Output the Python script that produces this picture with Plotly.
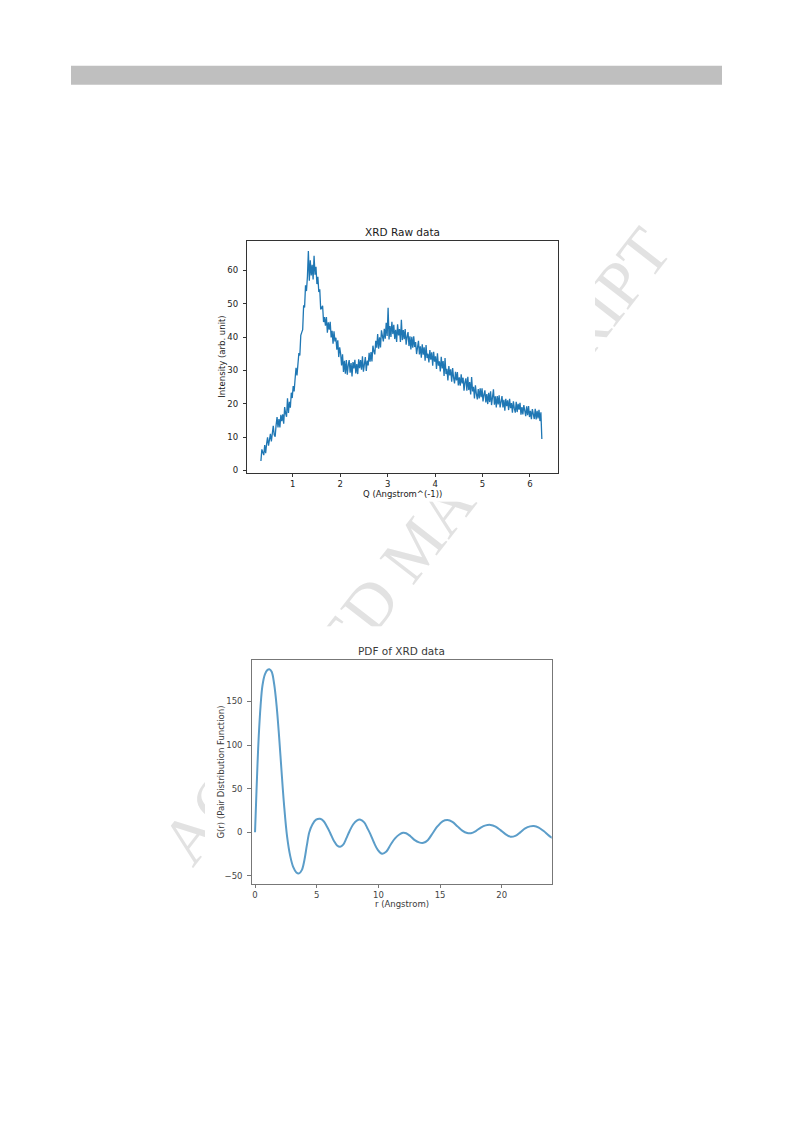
import plotly.graph_objects as go

W, H = 793, 1123

# ---------------- XRD raw data ----------------
q = [
    0.33, 0.35, 0.37, 0.39, 0.41, 0.43, 0.45, 0.47, 0.49, 0.51,
    0.53, 0.55, 0.57, 0.59, 0.61, 0.63, 0.65, 0.67, 0.69, 0.71,
    0.73, 0.75, 0.77, 0.79, 0.81, 0.83, 0.85, 0.87, 0.89, 0.91,
    0.93, 0.95, 0.97, 0.99, 1.01, 1.03, 1.05, 1.07, 1.09, 1.11,
    1.13, 1.15, 1.17, 1.19, 1.21, 1.23, 1.25, 1.27, 1.29, 1.31,
    1.33, 1.35, 1.37, 1.39, 1.41, 1.43, 1.45, 1.47, 1.49, 1.51,
    1.53, 1.55, 1.57, 1.59, 1.61, 1.63, 1.65, 1.67, 1.69, 1.71,
    1.73, 1.75, 1.77, 1.79, 1.81, 1.83, 1.85, 1.87, 1.89, 1.91,
    1.93, 1.95, 1.97, 1.99, 2.01, 2.03, 2.05, 2.07, 2.09, 2.11,
    2.13, 2.15, 2.17, 2.19, 2.21, 2.23, 2.25, 2.27, 2.29, 2.31,
    2.33, 2.35, 2.37, 2.39, 2.41, 2.43, 2.45, 2.47, 2.49, 2.51,
    2.53, 2.55, 2.57, 2.59, 2.61, 2.63, 2.65, 2.67, 2.69, 2.71,
    2.73, 2.75, 2.77, 2.79, 2.81, 2.83, 2.85, 2.87, 2.89, 2.91,
    2.93, 2.95, 2.97, 2.99, 3.01, 3.03, 3.05, 3.07, 3.09, 3.11,
    3.13, 3.15, 3.17, 3.19, 3.21, 3.23, 3.25, 3.27, 3.29, 3.31,
    3.33, 3.35, 3.37, 3.39, 3.41, 3.43, 3.45, 3.47, 3.49, 3.51,
    3.53, 3.55, 3.57, 3.59, 3.61, 3.63, 3.65, 3.67, 3.69, 3.71,
    3.73, 3.75, 3.77, 3.79, 3.81, 3.83, 3.85, 3.87, 3.89, 3.91,
    3.93, 3.95, 3.97, 3.99, 4.01, 4.03, 4.05, 4.07, 4.09, 4.11,
    4.13, 4.15, 4.17, 4.19, 4.21, 4.23, 4.25, 4.27, 4.29, 4.31,
    4.33, 4.35, 4.37, 4.39, 4.41, 4.43, 4.45, 4.47, 4.49, 4.51,
    4.53, 4.55, 4.57, 4.59, 4.61, 4.63, 4.65, 4.67, 4.69, 4.71,
    4.73, 4.75, 4.77, 4.79, 4.81, 4.83, 4.85, 4.87, 4.89, 4.91,
    4.93, 4.95, 4.97, 4.99, 5.01, 5.03, 5.05, 5.07, 5.09, 5.11,
    5.13, 5.15, 5.17, 5.19, 5.21, 5.23, 5.25, 5.27, 5.29, 5.31,
    5.33, 5.35, 5.37, 5.39, 5.41, 5.43, 5.45, 5.47, 5.49, 5.51,
    5.53, 5.55, 5.57, 5.59, 5.61, 5.63, 5.65, 5.67, 5.69, 5.71,
    5.73, 5.75, 5.77, 5.79, 5.81, 5.83, 5.85, 5.87, 5.89, 5.91,
    5.93, 5.95, 5.97, 5.99, 6.01, 6.03, 6.05, 6.07, 6.09, 6.11,
    6.13, 6.15, 6.17, 6.19, 6.21, 6.23, 6.25,
]
intensity = [
    2.8, 6.3, 5.4, 4.6, 7.6, 5.2, 8.0, 9.9, 7.4, 9.6,
    11.0, 8.7, 10.7, 13.4, 10.7, 10.1, 13.6, 16.0, 12.9, 15.4,
    12.9, 16.7, 14.8, 16.8, 14.0, 19.0, 17.1, 16.1, 21.6, 17.2,
    20.6, 18.8, 23.3, 21.7, 25.3, 23.7, 27.4, 30.8, 28.5, 32.9,
    35.2, 34.5, 40.5, 41.4, 42.2, 49.5, 48.9, 55.5, 53.8, 58.1,
    65.8, 56.9, 63.0, 58.5, 61.7, 57.3, 64.4, 58.7, 61.1, 55.9,
    58.1, 53.5, 54.3, 48.3, 49.2, 49.4, 44.5, 46.0, 43.4, 46.0,
    41.3, 44.4, 42.2, 44.6, 39.9, 41.9, 38.0, 41.7, 38.7, 39.8,
    36.2, 39.0, 34.0, 36.9, 35.0, 31.5, 34.8, 29.5, 32.9, 29.0,
    33.1, 28.7, 31.6, 33.1, 29.3, 32.2, 28.2, 32.5, 30.6, 33.2,
    29.1, 31.9, 28.9, 33.3, 30.7, 33.1, 30.2, 34.2, 29.6, 32.5,
    34.0, 29.8, 32.9, 31.5, 35.3, 32.6, 35.5, 32.7, 37.4, 35.8,
    34.8, 38.9, 36.8, 40.9, 36.5, 39.9, 36.9, 42.0, 40.3, 38.7,
    42.5, 39.5, 44.3, 40.3, 48.8, 39.3, 43.3, 40.0, 44.6, 40.9,
    43.7, 39.4, 42.2, 38.5, 43.8, 40.5, 42.4, 38.5, 45.2, 39.1,
    42.1, 39.4, 42.4, 37.7, 40.1, 41.5, 37.3, 40.2, 36.3, 40.1,
    36.8, 40.2, 37.0, 38.5, 34.9, 37.6, 38.9, 34.8, 37.2, 33.8,
    37.8, 34.7, 36.9, 32.9, 37.6, 33.7, 35.0, 32.4, 36.1, 33.2,
    35.4, 31.4, 35.6, 32.6, 34.2, 30.4, 35.1, 31.4, 32.7, 29.7,
    34.1, 30.6, 32.8, 28.3, 33.7, 28.9, 30.5, 27.0, 31.3, 28.5,
    30.3, 26.6, 30.7, 27.8, 26.1, 29.6, 27.0, 29.5, 25.5, 27.9,
    25.4, 28.8, 26.1, 27.8, 23.9, 26.5, 27.6, 23.9, 28.1, 24.1,
    26.5, 22.8, 28.0, 23.7, 25.1, 21.6, 25.5, 23.0, 21.3, 24.4,
    21.6, 24.6, 22.0, 24.6, 20.7, 22.7, 24.0, 20.4, 22.9, 19.9,
    23.3, 20.5, 23.7, 19.6, 21.7, 24.3, 19.7, 22.2, 18.9, 22.3,
    19.8, 22.5, 18.9, 21.0, 22.3, 18.9, 21.2, 17.9, 21.5, 19.3,
    21.0, 18.1, 21.5, 18.7, 20.2, 17.3, 20.7, 18.6, 17.3, 20.6,
    17.5, 20.0, 18.2, 20.3, 16.7, 19.0, 16.8, 19.6, 18.1, 16.3,
    19.2, 16.6, 19.3, 16.0, 17.9, 15.4, 18.4, 17.2, 15.4, 18.5,
    15.3, 17.9, 15.6, 18.2, 14.8, 17.4, 9.4,
]

# ---------------- PDF G(r) ----------------
r = [
    0.0, 0.1, 0.2, 0.3, 0.45, 0.6, 0.8, 1.0, 1.16, 1.35,
    1.55, 1.75, 1.95, 2.15, 2.35, 2.6, 2.85, 3.1, 3.35, 3.57,
    3.8, 4.0, 4.2, 4.4, 4.65, 4.95, 5.27, 5.55, 5.85, 6.1,
    6.4, 6.65, 6.9, 7.15, 7.4, 7.65, 7.95, 8.25, 8.55, 8.85,
    9.1, 9.35, 9.65, 9.95, 10.3, 10.65, 11.0, 11.35, 11.7, 12.0,
    12.25, 12.6, 12.95, 13.3, 13.65, 14.0, 14.4, 14.8, 15.2, 15.6,
    16.0, 16.4, 16.8, 17.2, 17.5, 17.9, 18.3, 18.7, 19.1, 19.5,
    19.9, 20.3, 20.7, 21.1, 21.5, 21.9, 22.3, 22.6, 23.0, 23.4,
    23.8, 24.1,
]
g_r = [
    0, 40, 78, 110, 145, 168, 181, 186, 187, 184,
    170, 145, 110, 70, 32, -5, -27, -40, -46, -47,
    -43, -32, -15, 0, 9, 14.5, 15.6, 13, 6, -1,
    -10, -15, -16.5, -14, -7, 1, 9, 13.5, 14.5, 11.5,
    5, -2, -12, -20, -24.5, -22, -14, -7, -2.5, -0.5,
    -1, -4.5, -9, -11.5, -12, -9, -1, 7, 12.5, 14,
    12, 7, 2, -0.8, -1, 1.5, 5.5, 8, 8.5, 6.5,
    2.5, -2, -5, -4, 0, 4.5, 6.8, 7.2, 5.5, 1.5,
    -3.5, -6.5,
]

q_ticks = [1, 2, 3, 4, 5, 6]
i_ticks = [0, 10, 20, 30, 40, 50, 60]
r_ticks = [0, 5, 10, 15, 20]
g_ticks = [-50, 0, 50, 100, 150]


def fx(px):
    return px / W


def fy(px):
    return 1 - px / H


fig = go.Figure()
# invisible subplots: full page (lower layer) + white figure areas that hide the watermark
for ax in ["", "2", "3"]:
    fig.add_trace(go.Scatter(x=[], y=[], xaxis="x" + ax, yaxis="y" + ax,
                             showlegend=False, hoverinfo="skip"))

fig.add_trace(go.Scatter(x=q, y=intensity, xaxis="x4", yaxis="y4", mode="lines",
                         line=dict(color="#1f77b4", width=1.3), showlegend=False))
fig.add_trace(go.Scatter(x=r, y=g_r, xaxis="x5", yaxis="y5", mode="lines",
                         line=dict(color="#5b9dc9", width=2, shape="spline", smoothing=1),
                         showlegend=False))

hidden = dict(visible=False, showgrid=False, zeroline=False, fixedrange=True, range=[0, 1])


def chart_axis(color, **kw):
    d = dict(showline=True, mirror=True, linecolor=color, linewidth=1,
             ticks="outside", ticklen=3.5, tickwidth=0.8, tickcolor=color,
             showgrid=False, zeroline=False, fixedrange=True,
             tickfont=dict(family="DejaVu Sans", size=8.5, color="#222222"))
    d.update(kw)
    return d


fig.update_layout(
    width=W, height=H,
    margin=dict(l=0, r=0, t=0, b=0),
    paper_bgcolor="white", plot_bgcolor="white",
    showlegend=False,
    xaxis=dict(domain=[0, 1], anchor="y", **hidden),
    yaxis=dict(domain=[0, 1], anchor="x", **hidden),
    xaxis2=dict(domain=[fx(205), fx(595)], anchor="y2", **hidden),
    yaxis2=dict(domain=[fy(503), fy(222)], anchor="x2", **hidden),
    xaxis3=dict(domain=[fx(205), fx(580)], anchor="y3", **hidden),
    yaxis3=dict(domain=[fy(925), fy(628)], anchor="x3", **hidden),
    xaxis4=chart_axis("#333333", domain=[fx(247.3), fx(557.7)], anchor="y4",
                      range=[0.043, 6.584], tickvals=q_ticks),
    yaxis4=chart_axis("#333333", domain=[fy(474), fy(241.7)], anchor="x4",
                      range=[-0.7, 68.8], tickvals=i_ticks, ticklabelstandoff=3),
    xaxis5=chart_axis("#777777", domain=[fx(251.7), fx(551.7)], anchor="y5",
                      range=[-0.27, 24.05], tickvals=r_ticks,
                      tickfont=dict(family="DejaVu Sans", size=8.5, color="#444444")),
    yaxis5=chart_axis("#777777", domain=[fy(886), fy(661.7)], anchor="x5",
                      range=[-58.8, 197.6], tickvals=g_ticks, ticklabelstandoff=3,
                      tickfont=dict(family="DejaVu Sans", size=8.5, color="#444444")),
)

# gray header bar
fig.add_shape(type="rect", xref="paper", yref="paper",
              x0=fx(71), x1=fx(722), y0=fy(85), y1=fy(66),
              fillcolor="#bfbfbf", line=dict(width=0), layer="below")

# watermark (under the figure areas)
fig.add_shape(type="line", xref="paper", yref="paper",
              x0=fx(184), y0=fy(834), x1=fx(636), y1=fy(252),
              line=dict(color="rgba(0,0,0,0)", width=0), layer="below",
              label=dict(text="ACCEPTED MANUSCRIPT", textposition="middle",
                         xanchor="center", yanchor="middle",
                         font=dict(family="Liberation Serif", size=66, color="#e2e2e2")))

ann_font_top = dict(family="DejaVu Sans", size=8.5, color="#1a1a1a")
ann_font_bot = dict(family="DejaVu Sans", size=8.5, color="#3a3a3a")
annotations = [
    dict(text="XRD Raw data", x=fx(402.5), y=fy(232.3),
         font=dict(family="DejaVu Sans", size=10.5, color="#1a1a1a")),
    dict(text="Q (Angstrom^(-1))", x=fx(402.5), y=fy(495.7), font=ann_font_top),
    dict(text="Intensity (arb. unit)", x=fx(221.7), y=fy(357.9), textangle=-90,
         font=ann_font_top),
    dict(text="PDF of XRD data", x=fx(401.7), y=fy(652.7),
         font=dict(family="DejaVu Sans", size=10.5, color="#3a3a3a")),
    dict(text="r (Angstrom)", x=fx(401.7), y=fy(906.7), font=ann_font_bot),
    dict(text="G(r) (Pair Distribution Function)", x=fx(220.7), y=fy(773.9),
         textangle=-90, font=ann_font_bot),
]
for a in annotations:
    fig.add_annotation(xref="paper", yref="paper", showarrow=False,
                       xanchor="center", yanchor="middle", **a)

fig.write_html("out.html", config={"displayModeBar": False},
               post_script="document.body.style.margin='0';")
